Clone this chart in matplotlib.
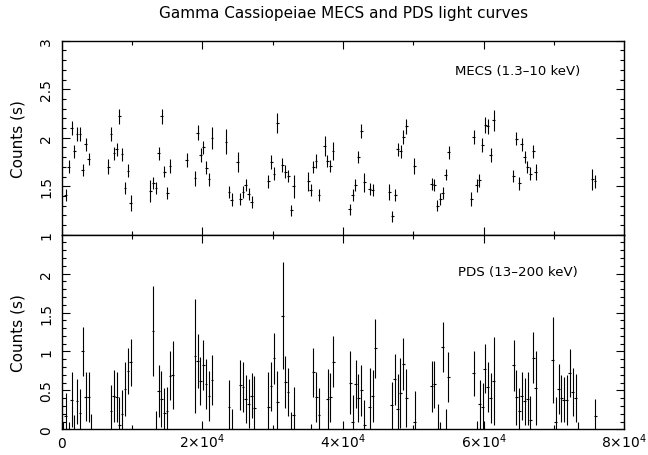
import numpy as np
import matplotlib
matplotlib.use("Agg")
import matplotlib.pyplot as plt
from matplotlib.ticker import MultipleLocator, FixedLocator

plt.rcParams['font.family'] = ['DejaVu Sans']
plt.rcParams['mathtext.fontset'] = 'dejavusans'

# ---------------- data ----------------
mecs_time = [570, 1000, 1420, 1790, 2180, 2600, 2990, 3410, 3840,
             6630, 7010, 7440, 7820, 8190, 8580, 9000, 9430, 9810,
             12600, 13030, 13410, 13800, 14220, 14590, 15020, 15400,
             17780, 18960, 19350, 19770, 20140, 20570, 20950, 21380,
             23370, 23800, 24180, 25040, 25400, 25790, 26170, 26600, 27030,
             29390, 29820, 30200, 30630, 31380, 31810, 32230, 32620, 33000,
             35040, 35420, 35790, 36170, 36600, 37410, 37780, 38170, 38590,
             40970, 41390, 41760, 42190, 42620, 43000, 43810, 44240,
             46600, 47030, 47410, 47800, 48220, 48590, 49020, 50160,
             52630, 53000, 53430, 53810, 54200, 54620, 55050,
             58220, 58610, 59030, 59400, 59830, 60210, 60600, 61020, 61450,
             64240, 64670, 65050, 65430, 65860, 66230, 66620, 67040, 67430,
             75430, 75820]
mecs_rate = [1.41, 1.70, 2.10, 1.86, 2.04, 2.04, 1.67, 1.93, 1.78,
             1.70, 2.04, 1.84, 1.88, 2.22, 1.83, 1.48, 1.66, 1.33,
             1.45, 1.53, 1.48, 1.84, 2.22, 1.65, 1.43, 1.71,
             1.77, 1.58, 2.05, 1.82, 1.90, 1.69, 1.57, 2.00,
             1.96, 1.44, 1.36, 1.75, 1.37, 1.44, 1.51, 1.42, 1.34,
             1.55, 1.75, 1.63, 2.15, 1.72, 1.65, 1.61, 1.25, 1.50,
             1.55, 1.46, 1.70, 1.76, 1.41, 1.91, 1.76, 1.71, 1.86,
             1.26, 1.41, 1.51, 1.80, 2.07, 1.54, 1.47, 1.46,
             1.44, 1.19, 1.41, 1.88, 1.86, 2.01, 2.12, 1.71,
             1.52, 1.51, 1.30, 1.37, 1.43, 1.62, 1.85,
             1.37, 2.01, 1.51, 1.56, 1.92, 2.13, 2.12, 1.82, 2.18,
             1.61, 1.99, 1.53, 1.93, 1.80, 1.70, 1.63, 1.86, 1.65,
             1.57, 1.55]
mecs_err = [0.065, 0.065, 0.072, 0.065, 0.069, 0.070, 0.060, 0.069, 0.064,
            0.077, 0.069, 0.069, 0.069, 0.074, 0.067, 0.062, 0.065, 0.081,
            0.117, 0.060, 0.062, 0.069, 0.077, 0.060, 0.060, 0.069,
            0.077, 0.079, 0.077, 0.069, 0.069, 0.065, 0.064, 0.115,
            0.125, 0.060, 0.065, 0.100, 0.060, 0.060, 0.060, 0.060, 0.062,
            0.065, 0.072, 0.064, 0.101, 0.069, 0.064, 0.062, 0.060, 0.117,
            0.095, 0.064, 0.062, 0.069, 0.060, 0.103, 0.065, 0.064, 0.091,
            0.057, 0.060, 0.064, 0.064, 0.072, 0.095, 0.065, 0.060,
            0.079, 0.055, 0.065, 0.069, 0.069, 0.070, 0.077, 0.082,
            0.060, 0.062, 0.060, 0.062, 0.060, 0.060, 0.069,
            0.072, 0.074, 0.069, 0.069, 0.072, 0.086, 0.077, 0.069, 0.107,
            0.062, 0.065, 0.067, 0.069, 0.065, 0.060, 0.065, 0.067, 0.081,
            0.108, 0.065]

pds_time = [140, 570, 990, 1420, 1800, 2180, 2600, 2980, 3410, 3840, 4220,
            7010, 7390, 7820, 8200, 8580, 9000, 9430, 9810,
            12990, 13410, 13790, 14170, 14600, 14980, 15400, 15790,
            18960, 19340, 19720, 20150, 20530, 20950, 21380,
            23800, 24180, 25410, 25790, 26170, 26600, 27020, 27400,
            29390, 29770, 30200, 30630, 31430, 31810, 32190, 32620, 33000,
            35420, 35800, 36220, 36600, 37830, 38210, 38640,
            41010, 41390, 41820, 42200, 42620, 43000, 43810, 44240, 44620,
            46940, 47360, 47790, 48170, 48600, 49020, 50210,
            52630, 53010, 53440, 53810, 54190, 54620, 55000,
            58600, 59030, 59410, 59840, 60170, 60550, 61020, 61450,
            64250, 64630, 65050, 65430, 65860, 66240, 66660, 67040, 67420,
            69840, 70220, 70650, 71030, 71410, 71830, 72210, 72640, 73070, 73450,
            75860]
pds_rate = [-0.20, 0.17, -0.15, 0.38, -0.15, 0.36, 0.21, 1.00, 0.42, 0.42, -0.10,
            0.24, 0.43, 0.41, 0.06, 0.20, 0.52, 0.75, 0.86,
            1.26, -0.08, 0.49, 0.39, 0.21, 0.23, 0.69, 0.70,
            0.94, 0.88, 0.62, 0.83, 0.58, 0.43, 0.63,
            0.29, -0.05, 0.57, 0.54, 0.39, 0.33, 0.43, 0.28,
            0.29, 0.55, 0.91, 0.35, 1.46, 0.61, 0.48, -0.10, 0.18,
            -0.25, 0.73, 0.41, 0.18, 0.39, 0.41, 0.87,
            0.60, 0.09, 0.58, 0.40, 0.50, 0.05, 0.29, 0.43, 1.04,
            0.31, 0.64, 0.26, 0.47, 0.84, 0.40, 0.09,
            0.55, 0.58, 0.00, -0.22, 1.06, -0.07, 0.67,
            0.72, -0.20, 0.32, 0.29, 0.78, 0.54, 0.40, 0.62,
            0.82, 0.41, 0.24, 0.43, 0.36, 0.39, 0.12, 0.92, 0.53,
            0.89, 0.10, 0.52, 0.40, 0.38, 0.38, 0.72, 0.48, 0.40, -0.20,
            0.17]
pds_err = [0.30, 0.30, 0.25, 0.35, 0.33, 0.29, 0.31, 0.31, 0.31, 0.32, 0.30,
           0.33, 0.33, 0.32, 0.36, 0.31, 0.35, 0.30, 0.30,
           0.58, 0.32, 0.33, 0.36, 0.32, 0.31, 0.31, 0.44,
           0.73, 0.35, 0.31, 0.32, 0.32, 0.32, 0.32,
           0.34, 0.31, 0.32, 0.32, 0.31, 0.31, 0.29, 0.40,
           0.44, 0.32, 0.33, 0.40, 0.69, 0.33, 0.31, 0.32, 0.36,
           0.32, 0.32, 0.32, 0.35, 0.38, 0.31, 0.33,
           0.40, 0.35, 0.31, 0.31, 0.33, 0.33, 0.50, 0.33, 0.38,
           0.30, 0.33, 0.45, 0.45, 0.33, 0.37, 0.40,
           0.33, 0.30, 0.32, 0.31, 0.32, 0.33, 0.32,
           0.29, 0.31, 0.31, 0.31, 0.32, 0.32, 0.32, 0.56,
           0.33, 0.35, 0.29, 0.31, 0.30, 0.34, 0.31, 0.33, 0.47,
           0.55, 0.32, 0.32, 0.30, 0.29, 0.32, 0.31, 0.31, 0.31, 0.30,
           0.22]

bin_half = 200  # half width of time bins (s)

title = "Gamma Cassiopeiae MECS and PDS light curves"
ylabel = "Counts (s)"
mecs_label = "MECS (1.3\u201310 keV)"
pds_label = "PDS (13\u2013200 keV)"
x_ticks = [0, 20000, 40000, 60000, 80000]
x_ticklabels = [r'$0$', r'$2{\times}10^{4}$', r'$4{\times}10^{4}$',
                r'$6{\times}10^{4}$', r'$8{\times}10^{4}$']
mecs_yticks = [1, 1.5, 2, 2.5, 3]
mecs_yticklabels = ['1', '1.5', '2', '2.5', '3']
pds_yticks = [0, 0.5, 1, 1.5, 2]
pds_yticklabels = ['0', '0.5', '1', '1.5', '2']

# ---------------- figure ----------------
fig = plt.figure(figsize=(6.48, 4.56), dpi=100)
ax1 = fig.add_axes([0.09522, 0.48311, 0.86821, 0.42544])
ax2 = fig.add_axes([0.09522, 0.05636, 0.86821, 0.42675])

for ax in (ax1, ax2):
    for s in ax.spines.values():
        s.set_linewidth(1.0)
    ax.set_xlim(0, 80000)
    ax.xaxis.set_major_locator(FixedLocator(x_ticks))
    ax.xaxis.set_minor_locator(MultipleLocator(10000))
    ax.yaxis.set_minor_locator(MultipleLocator(0.1))
    ax.tick_params(which='both', direction='in', top=True, right=True,
                   colors='black', width=0.8)
    ax.tick_params(which='major', length=5.5)
    ax.tick_params(which='minor', length=2.6)

ax1.errorbar(mecs_time, mecs_rate, yerr=mecs_err, xerr=bin_half, fmt='none',
             ecolor='black', elinewidth=0.8, capsize=0)
ax2.errorbar(pds_time, pds_rate, yerr=pds_err, xerr=bin_half, fmt='none',
             ecolor='black', elinewidth=0.8, capsize=0)

ax1.set_ylim(1, 3)
ax2.set_ylim(0, 2.5)
ax1.set_yticks(mecs_yticks)
ax1.set_yticklabels(mecs_yticklabels)
ax2.set_yticks(pds_yticks)
ax2.set_yticklabels(pds_yticklabels)
ax1.tick_params(axis='x', labelbottom=False)
ax2.set_xticklabels(x_ticklabels)

for ax in (ax1, ax2):
    ax.tick_params(axis='y', pad=8.4, labelsize=10)
    ax.tick_params(axis='x', pad=12.7, labelsize=10)
    for lab in ax.get_yticklabels():
        lab.set_rotation(90)
        lab.set_rotation_mode('anchor')
        lab.set_ha('center')
        lab.set_va('baseline')
    for lab in ax.get_xticklabels():
        lab.set_va('baseline')

ax1.text(0.81, 0.844, mecs_label, transform=ax1.transAxes, ha='center',
         va='center', fontsize=9.5)
ax2.text(0.81, 0.813, pds_label, transform=ax2.transAxes, ha='center',
         va='center', fontsize=9.6)

fig.text(18 / 648, 0.5 * (0.48311 + 0.90855), ylabel, rotation=90,
         ha='center', va='center', fontsize=11)
fig.text(18 / 648, 0.5 * (0.05636 + 0.48311), ylabel, rotation=90,
         ha='center', va='center', fontsize=11)
fig.text(0.5295, 0.971, title, ha='center', va='center', fontsize=11)

fig.savefig("out.png", dpi=100)
